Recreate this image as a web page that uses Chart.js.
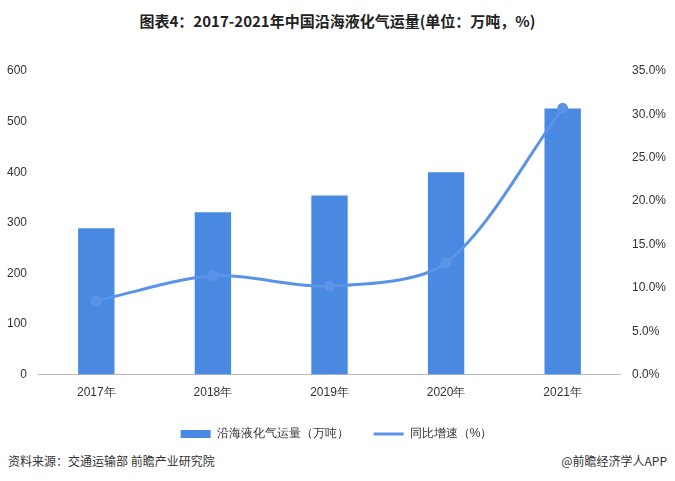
<!DOCTYPE html>
<html>
<head>
<meta charset="utf-8">
<script src="https://cdn.jsdelivr.net/npm/chart.js@4/dist/chart.umd.min.js"></script>
<style>
  body { margin: 0; background: #fff; font-family: "Noto Sans CJK SC", sans-serif; }
  #wrap { position: relative; width: 675px; height: 481px; }
  #title { position: absolute; top: 10px; width: 100%; text-align: center; font-size: 15px; font-weight: bold; color: #222; }
  #box { position: absolute; left: 0; top: 50px; width: 675px; height: 400px; }
  #src { position: absolute; left: 8px; top: 452px; font-size: 12px; color: #333; }
  #app { position: absolute; right: 8px; top: 452px; font-size: 12px; color: #333; }
</style>
</head>
<body>
<div id="wrap">
  <div id="title">图表4：2017-2021年中国沿海液化气运量(单位：万吨，%)</div>
  <div id="box"><canvas id="c"></canvas></div>
  <div id="src">资料来源：交通运输部 前瞻产业研究院</div>
  <div id="app">@前瞻经济学人APP</div>
</div>
<script>
// 数据
const years = ['2017年', '2018年', '2019年', '2020年', '2021年'];
const volume = [289, 321, 354, 400, 526];
const growth = [8.5, 11.4, 10.2, 12.9, 30.7];

new Chart(document.getElementById('c'), {
    data: {
        labels: years,
        datasets: [{
            type: 'line',
            label: '同比增速（%）',
            data: growth,
            yAxisID: 'y1',
            borderColor: '#5b93e6',
            backgroundColor: '#5b93e6',
            borderWidth: 3,
            pointRadius: 4,
            tension: 0.3,
            order: 0
        }, {
            type: 'bar',
            label: '沿海液化气运量（万吨）',
            data: volume,
            yAxisID: 'y',
            backgroundColor: '#4a89e2',
            barPercentage: 0.6,
            categoryPercentage: 0.52,
            order: 1
        }]
    },
    options: {
        responsive: true,
        maintainAspectRatio: false,
        animation: false,
        layout: { padding: { left: 4, right: 6, top: 21 } },
        plugins: {
            legend: {
                position: 'bottom',
                reverse: true,
                labels: {
                    font: { size: 12 }, color: '#333', boxHeight: 8, padding: 25,
                    usePointStyle: true, pointStyleWidth: 30,
                    generateLabels: chart => Chart.defaults.plugins.legend.labels.generateLabels(chart).map(l => {
                        l.pointStyle = l.datasetIndex === 0 ? 'line' : 'rect';
                        if (l.datasetIndex === 0) l.lineWidth = 3;
                        return l;
                    })
                }
            }
        },
        scales: {
            x: {
                grid: { display: false },
                border: { color: '#bbb' },
                ticks: { color: '#333', font: { size: 12 } }
            },
            y: {
                min: 0, max: 600,
                ticks: { stepSize: 100, color: '#333', font: { size: 12 } },
                grid: { display: false },
                border: { display: false }
            },
            y1: {
                position: 'right',
                min: 0, max: 35,
                ticks: { stepSize: 5, color: '#333', font: { size: 12 }, callback: v => v.toFixed(1) + '%' },
                grid: { display: false },
                border: { display: false }
            }
        }
    }
});
</script>
</body>
</html>
